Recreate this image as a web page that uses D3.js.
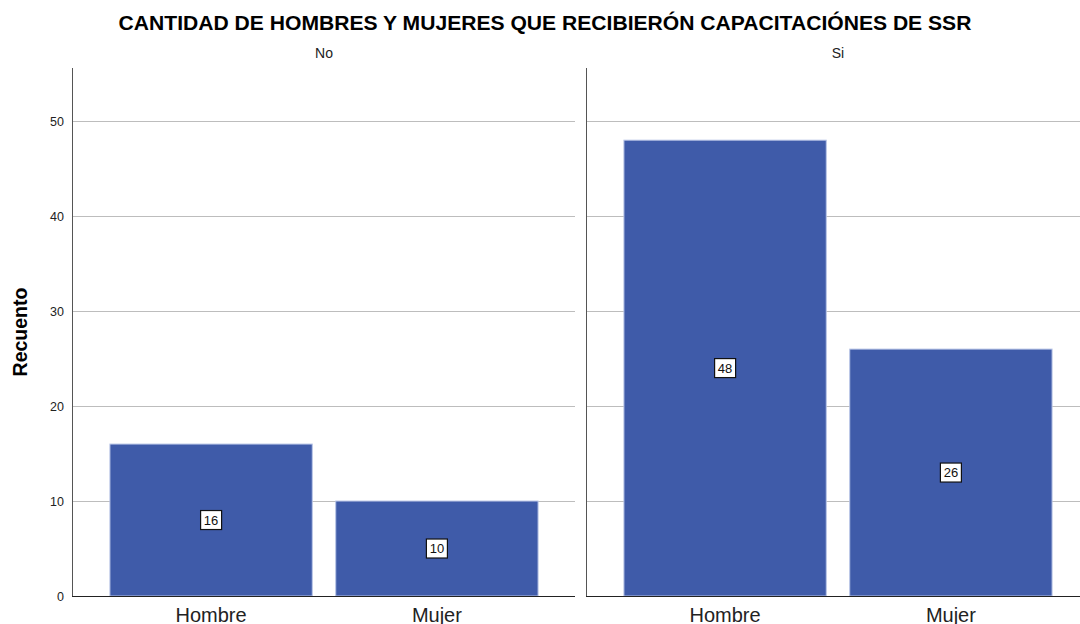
<!DOCTYPE html>
<html>
<head>
<meta charset="utf-8">
<script src="https://cdn.jsdelivr.net/npm/d3@7"></script>
<style>
  body { margin: 0; background: #fff; }
  text { font-family: Arial, "Liberation Sans", sans-serif; }
</style>
</head>
<body>
<script>
"use strict";

// data
var panels = ["No", "Si"];
var categories = ["Hombre", "Mujer"];
var counts = {
  "No": [16, 10],
  "Si": [48, 26]
};
var yTicks = [0, 10, 20, 30, 40, 50];

// dimensions
var W = 1080, H = 624;
var margin = {top: 68, bottom: 28, left: 72};
var panelWidth = 504, panelGap = 10;
var plotHeight = H - margin.top - margin.bottom;

var svg = d3.select("body").append("svg")
    .attr("width", W)
    .attr("height", H);

// scales
var y = d3.scaleLinear().domain([0, 55.6]).range([plotHeight, 0]);
var x = d3.scaleBand().domain(categories).range([0, panelWidth])
    .paddingInner(0.104).paddingOuter(0.168);

// title
svg.append("text")
    .attr("x", 545)
    .attr("y", 30)
    .attr("text-anchor", "middle")
    .style("font-size", "21.1px")
    .style("font-weight", "bold")
    .text("CANTIDAD DE HOMBRES Y MUJERES QUE RECIBIERÓN CAPACITACIÓNES DE SSR");

// y label
svg.append("text")
    .attr("transform", "translate(27," + (margin.top + plotHeight / 2) + ") rotate(-90)")
    .attr("text-anchor", "middle")
    .style("font-size", "19.5px")
    .style("font-weight", "bold")
    .text("Recuento");

panels.forEach(function(p, i) {
  var g = svg.append("g")
      .attr("transform", "translate(" + (margin.left + i * (panelWidth + panelGap)) + "," + margin.top + ")");

  // gridlines
  g.selectAll(".grid")
    .data(yTicks.filter(function(d) { return d > 0; }))
    .enter().append("line")
      .attr("x1", 0)
      .attr("x2", panelWidth - 1)
      .attr("y1", function(d) { return Math.round(y(d)) + 0.5; })
      .attr("y2", function(d) { return Math.round(y(d)) + 0.5; })
      .attr("stroke", "#bdbdbd")
      .attr("stroke-width", 1);

  // panel label
  g.append("text")
      .attr("x", panelWidth / 2)
      .attr("y", -10)
      .attr("text-anchor", "middle")
      .style("font-size", "14px")
      .attr("fill", "#222")
      .text(p);

  // bars
  var data = categories.map(function(c, j) { return {cat: c, value: counts[p][j]}; });
  g.selectAll(".bar")
    .data(data)
    .enter().append("rect")
      .attr("x", function(d) { return x(d.cat); })
      .attr("y", function(d) { return y(d.value); })
      .attr("width", x.bandwidth())
      .attr("height", function(d) { return plotHeight - y(d.value); })
      .attr("fill", "#3f5ba9")
      .attr("stroke", "#b8c4e6")
      .attr("stroke-width", 1);

  // value labels
  var lab = g.selectAll(".lab")
    .data(data)
    .enter().append("g")
      .attr("transform", function(d) {
        return "translate(" + (x(d.cat) + x.bandwidth() / 2) + "," + y(d.value / 2) + ")";
      });
  lab.append("rect")
      .attr("x", -10.5)
      .attr("y", -9.5)
      .attr("width", 21)
      .attr("height", 19)
      .attr("fill", "#fff")
      .attr("stroke", "#111")
      .attr("stroke-width", 1.2);
  lab.append("text")
      .attr("text-anchor", "middle")
      .attr("dy", "0.36em")
      .style("font-size", "13px")
      .attr("fill", "#111")
      .text(function(d) { return d.value; });

  // y axis line
  g.append("line")
      .attr("x1", 0.5).attr("x2", 0.5)
      .attr("y1", 0).attr("y2", plotHeight)
      .attr("stroke", "#555")
      .attr("stroke-width", 1);

  // baseline
  g.append("line")
      .attr("x1", 0).attr("x2", panelWidth - 1)
      .attr("y1", plotHeight + 0.5).attr("y2", plotHeight + 0.5)
      .attr("stroke", "#222")
      .attr("stroke-width", 1);

  // x axis labels
  g.selectAll(".xl")
    .data(categories)
    .enter().append("text")
      .attr("x", function(d) { return x(d) + x.bandwidth() / 2; })
      .attr("y", plotHeight + 26)
      .attr("text-anchor", "middle")
      .style("font-size", "20px")
      .attr("fill", "#222")
      .text(function(d) { return d; });
});

// y tick labels (left panel only)
svg.append("g")
    .selectAll("text")
    .data(yTicks)
    .enter().append("text")
      .attr("x", 64)
      .attr("y", function(d) { return margin.top + y(d); })
      .attr("dy", "0.36em")
      .attr("text-anchor", "end")
      .style("font-size", "12.5px")
      .attr("fill", "#222")
      .text(function(d) { return d; });
</script>
</body>
</html>
